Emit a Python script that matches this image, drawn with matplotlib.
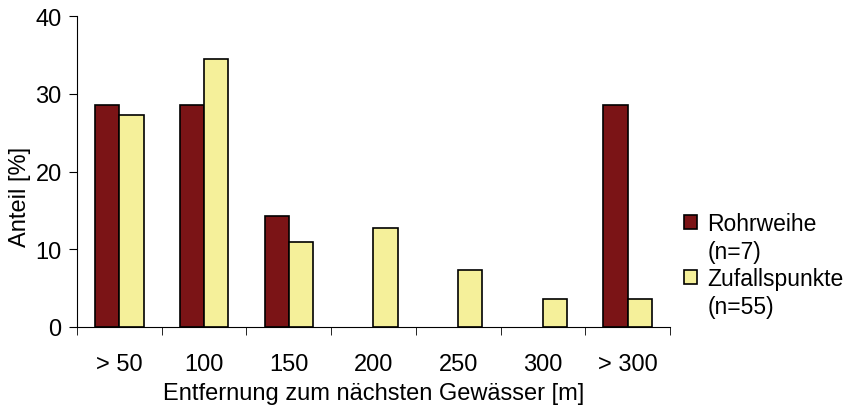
import numpy as np
import matplotlib
matplotlib.use("Agg")
import matplotlib.pyplot as plt
from matplotlib.patches import Patch

plt.rcParams['font.family'] = ['Liberation Sans', 'DejaVu Sans']

categories = ["> 50", "100", "150", "200", "250", "300", "> 300"]
rohrweihe = [28.6, 28.6, 14.3, 0, 0, 0, 28.6]
zufall = [27.3, 34.5, 10.9, 12.7, 7.3, 3.6, 3.6]
series_names = ["Rohrweihe", "Zufallspunkte"]
series_n = ["(n=7)", "(n=55)"]
colors = ["#7B1416", "#F5F09A"]

fig = plt.figure(figsize=(8.44, 4.06), dpi=100)
ax = fig.add_axes([77/844, 1 - 328/406, 593/844, 311/406])

x = np.arange(len(categories))
w = 0.285
for off, vals, c in [(-w/2, rohrweihe, colors[0]), (w/2, zufall, colors[1])]:
    bars = ax.bar(x + off, vals, w, color=c, edgecolor="black", linewidth=1.2)
    for b, v in zip(bars, vals):
        if v == 0:
            b.set_visible(False)

ax.set_xlim(-0.5, len(categories) - 0.5)
ax.set_ylim(0, 40)
ax.set_yticks([0, 10, 20, 30, 40])
ax.set_xticks(x)
ax.set_xticklabels(categories)
ax.set_xticks(np.arange(len(categories) + 1) - 0.5, minor=True)
ax.tick_params(axis='x', which='major', length=0, pad=19, labelsize=17)
ax.tick_params(axis='x', which='minor', length=6, direction='out')
ax.tick_params(axis='y', length=6, direction='out', labelsize=17, pad=5)
ax.spines['top'].set_visible(False)
ax.spines['right'].set_visible(False)
ax.set_xlabel("Entfernung zum nächsten Gewässer [m]", fontsize=17, labelpad=5)
ax.set_ylabel("Anteil [%]", fontsize=17)
ax.yaxis.set_label_coords(-0.077, 0.42)

# legend: name line with a swatch, sample size line without
handles = []
texts = []
for name, n, c in zip(series_names, series_n, colors):
    handles.append(Patch(facecolor=c, edgecolor="black", linewidth=1.2))
    texts.append(name)
    handles.append(Patch(facecolor="none", edgecolor="none"))
    texts.append(n)
ax.legend(handles, texts, loc='center left', bbox_to_anchor=(1.024, 0.2), frameon=False,
          fontsize=16.5, handlelength=0.55, handleheight=0.55, handletextpad=0.45,
          labelspacing=0.2, borderaxespad=0, borderpad=0)

fig.savefig("out.png", dpi=100)
